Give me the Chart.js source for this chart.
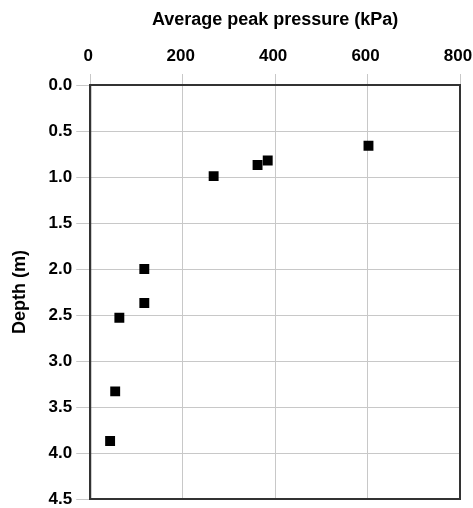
<!DOCTYPE html>
<html>
<head>
<meta charset="utf-8">
<script src="https://cdn.jsdelivr.net/npm/chart.js@4"></script>
<style>
  html, body { margin: 0; padding: 0; background: #fff; }
  #wrap { width: 473px; height: 508px; }
</style>
</head>
<body>
<div id="wrap"><canvas id="chart"></canvas></div>
<script>
// Readings
const pressure = [602, 362, 384, 267, 117, 117, 63, 54, 43];
const depth = [0.66, 0.87, 0.82, 0.99, 2.0, 2.37, 2.53, 3.33, 3.87];
const xTicks = [0, 200, 400, 600, 800];
const yTicks = [0, 0.5, 1, 1.5, 2, 2.5, 3, 3.5, 4, 4.5];

const points = pressure.map((p, i) => ({ x: p, y: depth[i] }));

// frame around the plot area (right + bottom edges too)
const frame = {
    id: 'frame',
    afterDraw(chart) {
        const a = chart.chartArea;
        const c = chart.ctx;
        c.save();
        c.strokeStyle = '#333';
        c.lineWidth = 2;
        c.strokeRect(a.left, a.top, a.right - a.left, a.bottom - a.top);
        c.restore();
    }
};

const family = 'Liberation Sans, Arial, sans-serif';
const tickFont = { family: family, size: 17, weight: 'bold' };
const titleFont = { family: family, size: 18, weight: 'bold' };

new Chart(document.getElementById('chart'), {
    type: 'scatter',
    data: {
        datasets: [{
            data: points,
            pointStyle: 'rect',
            pointRadius: 7,
            pointHoverRadius: 7,
            backgroundColor: '#000',
            borderColor: '#000',
            borderWidth: 0
        }]
    },
    options: {
        responsive: true,
        maintainAspectRatio: false,
        animation: false,
        layout: { padding: { right: 13, bottom: 9, left: 9, top: 0 } },
        plugins: { legend: { display: false }, tooltip: { enabled: false } },
        scales: {
            x: {
                position: 'top',
                min: 0, max: 800,
                afterBuildTicks: s => { s.ticks = xTicks.map(v => ({ value: v })); },
                afterFit: s => { s.paddingLeft = 0; s.paddingRight = 0; },
                ticks: { color: '#000', font: tickFont, padding: 7, labelOffset: -2, maxRotation: 0 },
                grid: { color: '#c8c8c8', tickLength: 11 },
                border: { color: '#333', width: 2 },
                title: { display: true, text: 'Average peak pressure (kPa)', color: '#000', font: titleFont, padding: { top: 9, bottom: 9 } }
            },
            y: {
                reverse: true,
                min: 0, max: 4.5,
                afterBuildTicks: s => { s.ticks = yTicks.map(v => ({ value: v })); },
                afterFit: s => { s.paddingTop = 0; s.paddingBottom = 0; },
                ticks: { color: '#000', font: tickFont, padding: 4, callback: v => Number(v).toFixed(1) },
                grid: { color: '#c8c8c8', tickLength: 14 },
                border: { color: '#333', width: 2 },
                title: { display: true, text: 'Depth (m)', color: '#000', font: titleFont, padding: { top: 0, bottom: 14 } }
            }
        }
    },
    plugins: [frame]
});
</script>
</body>
</html>
